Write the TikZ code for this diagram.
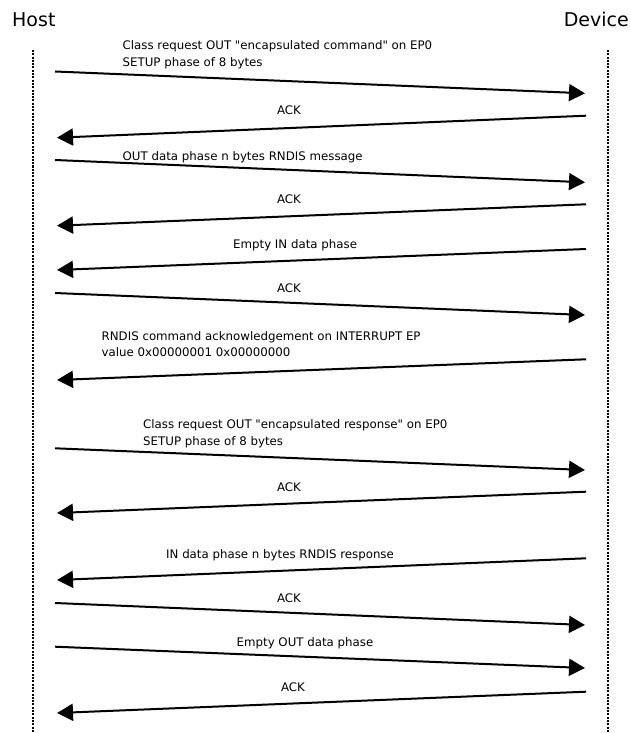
\documentclass[tikz,border=0pt]{standalone}
\usepackage{fontspec}
\setmainfont{DejaVu Sans}[Ligatures=TeXOff]
\usetikzlibrary{arrows.meta}

\begin{document}
\begin{tikzpicture}[x=1pt,y=-1pt,
  lifeline/.style={line width=2pt, dash pattern=on 2pt off 1.3pt},
  msg/.style={line width=2pt, -{Triangle[length=16pt,width=17pt]}},
  title/.style={font=\fontsize{19}{22}\selectfont, inner sep=0pt},
  lbl/.style={font=\fontsize{11.8}{14}\selectfont, inner sep=0pt}]
\useasboundingbox (0,0) rectangle (630,733);

% participants
\node[title, anchor=base west] (host) at (12,27) {Host};
\node[title, anchor=base east] (device) at (629,27) {Device};

% lifelines
\coordinate (hTop) at (33,50);
\coordinate (hBot) at (33,733);
\coordinate (dTop) at (608,50);
\coordinate (dBot) at (608,733);
\draw[lifeline] (hTop) -- (hBot);
\draw[lifeline] (dTop) -- (dBot);

% message end points
\coordinate (h1) at (55,71.5);   \coordinate (d1) at (585,93.3);
\coordinate (d2) at (586,115.7); \coordinate (h2) at (57,137.7);
\coordinate (h3) at (55,160);    \coordinate (d3) at (585,182.3);
\coordinate (d4) at (586,204.3); \coordinate (h4) at (57,225.7);
\coordinate (d5) at (586,249);   \coordinate (h5) at (57,270);
\coordinate (h6) at (55,293);    \coordinate (d6) at (585,315);
\coordinate (d7) at (586,359.3); \coordinate (h7) at (57,380);
\coordinate (h8) at (55,448.3);  \coordinate (d8) at (585,470);
\coordinate (d9) at (586,491.7); \coordinate (h9) at (57,513);
\coordinate (d10) at (586,558.3);\coordinate (h10) at (57,580);
\coordinate (h11) at (55,603);   \coordinate (d11) at (585,625);
\coordinate (h12) at (55,646.7); \coordinate (d12) at (585,668);
\coordinate (d13) at (586,691.7);\coordinate (h13) at (57,713);

% messages
\draw[msg] (h1) -- (d1);
\draw[msg] (d2) -- (h2);
\draw[msg] (h3) -- (d3);
\draw[msg] (d4) -- (h4);
\draw[msg] (d5) -- (h5);
\draw[msg] (h6) -- (d6);
\draw[msg] (d7) -- (h7);
\draw[msg] (h8) -- (d8);
\draw[msg] (d9) -- (h9);
\draw[msg] (d10) -- (h10);
\draw[msg] (h11) -- (d11);
\draw[msg] (h12) -- (d12);
\draw[msg] (d13) -- (h13);

% message labels
\node[lbl, anchor=base west] (m1a) at (122.5,50) {Class request OUT "encapsulated command" on EP0};
\node[lbl, anchor=base west] (m1b) at (122.5,66.7) {SETUP phase of 8 bytes};
\node[lbl, anchor=base] (m2) at (289,114) {ACK};
\node[lbl, anchor=base west] (m3) at (122.5,160) {OUT data phase n bytes RNDIS message};
\node[lbl, anchor=base] (m4) at (289,203) {ACK};
\node[lbl, anchor=base west] (m5) at (233,248) {Empty IN data phase};
\node[lbl, anchor=base] (m6) at (289,292) {ACK};
\node[lbl, anchor=base west] (m7a) at (101.5,340) {RNDIS command acknowledgement on INTERRUPT EP};
\node[lbl, anchor=base west] (m7b) at (101.5,356.7) {value 0x00000001 0x00000000};
\node[lbl, anchor=base west] (m8a) at (143,428) {Class request OUT "encapsulated response" on EP0};
\node[lbl, anchor=base west] (m8b) at (143,445) {SETUP phase of 8 bytes};
\node[lbl, anchor=base] (m9) at (289,491) {ACK};
\node[lbl, anchor=base west] (m10) at (166,558) {IN data phase n bytes RNDIS response};
\node[lbl, anchor=base] (m11) at (289,602) {ACK};
\node[lbl, anchor=base] (m12) at (305,646) {Empty OUT data phase};
\node[lbl, anchor=base] (m13) at (293,691) {ACK};
\end{tikzpicture}
\end{document}
